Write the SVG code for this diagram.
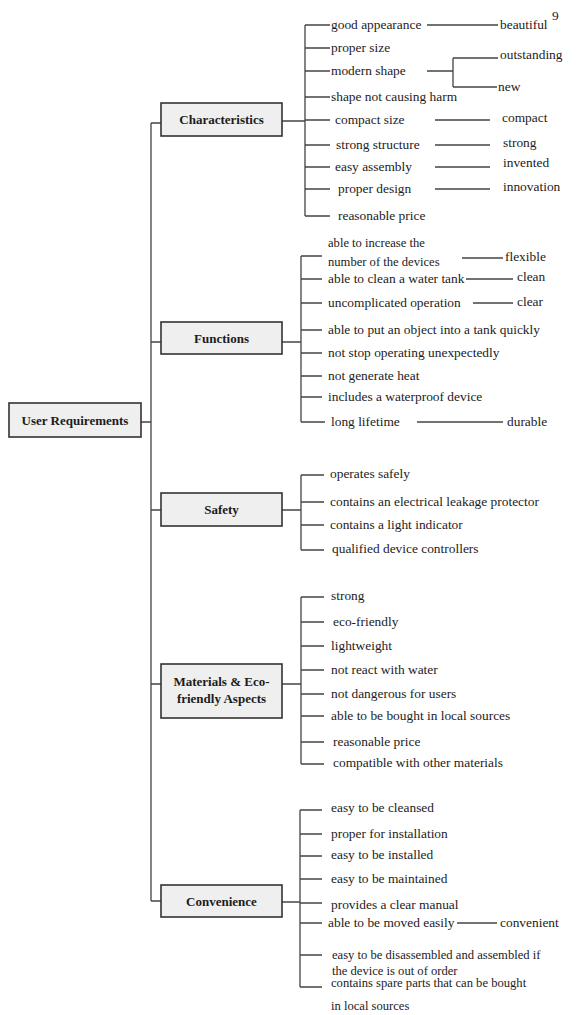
<svg xmlns="http://www.w3.org/2000/svg" width="576" height="1015" viewBox="0 0 576 1015">
<style>
text{font-family:"Liberation Serif","Times New Roman",serif;fill:#1c1c1c}
.it{font-size:13.4px}
.sm{font-size:12.6px}
.bt{font-size:13px;font-weight:bold;text-anchor:middle}
.bx{fill:#efefef;stroke:#333;stroke-width:1.6}
.ln{fill:none;stroke:#444;stroke-width:1.3}
</style>
<rect width="576" height="1015" fill="#fff"/>
<g id="connectors" class="ln">
<path d="M141 422H151M151 123V901M151 123H161M151 342H161M151 510H161M151 684H161M151 901H161"/>
<path d="M282 121H305M305 25V216M305 25H330M305 48H330M305 71H330M305 97H330M305 120H330M305 145H330M305 167H330M305 189H330M305 216H330"/>
<path d="M427 25H498M427 71H453M453 58V87M453 58H498M453 87H497M435 120H490M435 145H490M435 167H490M435 189H490"/>
<path d="M282 342H301M301 256V422M301 256H322M301 279H322M301 303H322M301 330H322M301 353H322M301 376H322M301 397H322M301 422H325"/>
<path d="M462 258H503M466 279H513M473 303H513M417 422H503"/>
<path d="M282 510H301M301 475V550M301 475H324M301 502H324M301 525H324M301 550H324"/>
<path d="M282 684H301M301 597V764M301 597H324M301 622H324M301 646H324M301 670H324M301 694H324M301 716H324M301 742H324M301 764H324"/>
<path d="M282 902H300M300 810V987M300 810H322M300 834H322M300 856H322M300 879H322M300 903H322M300 923H322M300 955H322M300 987H322"/>
<path d="M457 923H497"/>
</g>
<text x="552" y="20" class="it">9</text>
<g id="user-requirements"><rect class="bx" x="9" y="403" width="132" height="34"/><text class="bt" x="75" y="425">User Requirements</text></g>
<g id="characteristics"><rect class="bx" x="161" y="103" width="121" height="33"/><text class="bt" x="221.5" y="124">Characteristics</text></g>
<g id="functions"><rect class="bx" x="161" y="322" width="121" height="32"/><text class="bt" x="221.5" y="343">Functions</text></g>
<g id="safety"><rect class="bx" x="161" y="493" width="121" height="33"/><text class="bt" x="221.5" y="514">Safety</text></g>
<g id="materials"><rect class="bx" x="161" y="664" width="121" height="54"/><text class="bt" x="221.5" y="686">Materials &amp; Eco-</text><text class="bt" x="221.5" y="703">friendly Aspects</text></g>
<g id="convenience"><rect class="bx" x="161" y="885" width="121" height="32"/><text class="bt" x="221.5" y="906">Convenience</text></g>
<g id="char-items" class="it">
<g id="c1"><text x="331" y="29">good appearance</text></g>
<g id="c2"><text x="331" y="52">proper size</text></g>
<g id="c3"><text x="331" y="75">modern shape</text></g>
<g id="c4"><text x="331" y="101">shape not causing harm</text></g>
<g id="c5"><text x="335" y="124">compact size</text></g>
<g id="c6"><text x="336" y="149">strong structure</text></g>
<g id="c7"><text x="335" y="171">easy assembly</text></g>
<g id="c8"><text x="338" y="193">proper design</text></g>
<g id="c9"><text x="338" y="220">reasonable price</text></g>
<g id="c1a"><text x="500" y="29">beautiful</text></g>
<g id="c3a"><text x="500" y="59">outstanding</text></g>
<g id="c3b"><text x="498" y="91">new</text></g>
<g id="c5a"><text x="502" y="122">compact</text></g>
<g id="c6a"><text x="503" y="147">strong</text></g>
<g id="c7a"><text x="503" y="167">invented</text></g>
<g id="c8a"><text x="503" y="191">innovation</text></g>
</g>
<g id="func-items" class="it">
<g id="f1"><text x="328" y="247" class="sm">able to increase the</text><text x="328" y="266" class="sm">number of the devices</text></g>
<g id="f2"><text x="328" y="283">able to clean a water tank</text></g>
<g id="f3"><text x="328" y="307">uncomplicated operation</text></g>
<g id="f4"><text x="328" y="334">able to put an object into a tank quickly</text></g>
<g id="f5"><text x="328" y="357">not stop operating unexpectedly</text></g>
<g id="f6"><text x="328" y="380">not generate heat</text></g>
<g id="f7"><text x="328" y="401">includes a waterproof device</text></g>
<g id="f8"><text x="331" y="426">long lifetime</text></g>
<g id="f1a"><text x="505" y="261">flexible</text></g>
<g id="f2a"><text x="517" y="281">clean</text></g>
<g id="f3a"><text x="517" y="306">clear</text></g>
<g id="f8a"><text x="507" y="426">durable</text></g>
</g>
<g id="safety-items" class="it">
<g id="s1"><text x="330" y="478">operates safely</text></g>
<g id="s2"><text x="330" y="506">contains an electrical leakage protector</text></g>
<g id="s3"><text x="330" y="529">contains a light indicator</text></g>
<g id="s4"><text x="332" y="553">qualified device controllers</text></g>
</g>
<g id="mat-items" class="it">
<g id="m1"><text x="331" y="600">strong</text></g>
<g id="m2"><text x="333" y="626">eco-friendly</text></g>
<g id="m3"><text x="331" y="650">lightweight</text></g>
<g id="m4"><text x="331" y="674">not react with water</text></g>
<g id="m5"><text x="331" y="698">not dangerous for users</text></g>
<g id="m6"><text x="331" y="720">able to be bought in local sources</text></g>
<g id="m7"><text x="333" y="746">reasonable price</text></g>
<g id="m8"><text x="333" y="767">compatible with other materials</text></g>
</g>
<g id="conv-items" class="it">
<g id="v1"><text x="331" y="812">easy to be cleansed</text></g>
<g id="v2"><text x="331" y="838">proper for installation</text></g>
<g id="v3"><text x="331" y="859">easy to be installed</text></g>
<g id="v4"><text x="331" y="883">easy to be maintained</text></g>
<g id="v5"><text x="331" y="909">provides a clear manual</text></g>
<g id="v6"><text x="328" y="927">able to be moved easily</text></g>
<g id="v6a"><text x="500" y="927">convenient</text></g>
<g id="v7"><text x="332" y="959" class="sm">easy to be disassembled and assembled if</text><text x="332" y="975" class="sm">the device is out of order</text></g>
<g id="v8"><text x="331" y="987" class="sm">contains spare parts that can be bought</text><text x="331" y="1010" class="sm">in local sources</text></g>
</g>
</svg>
